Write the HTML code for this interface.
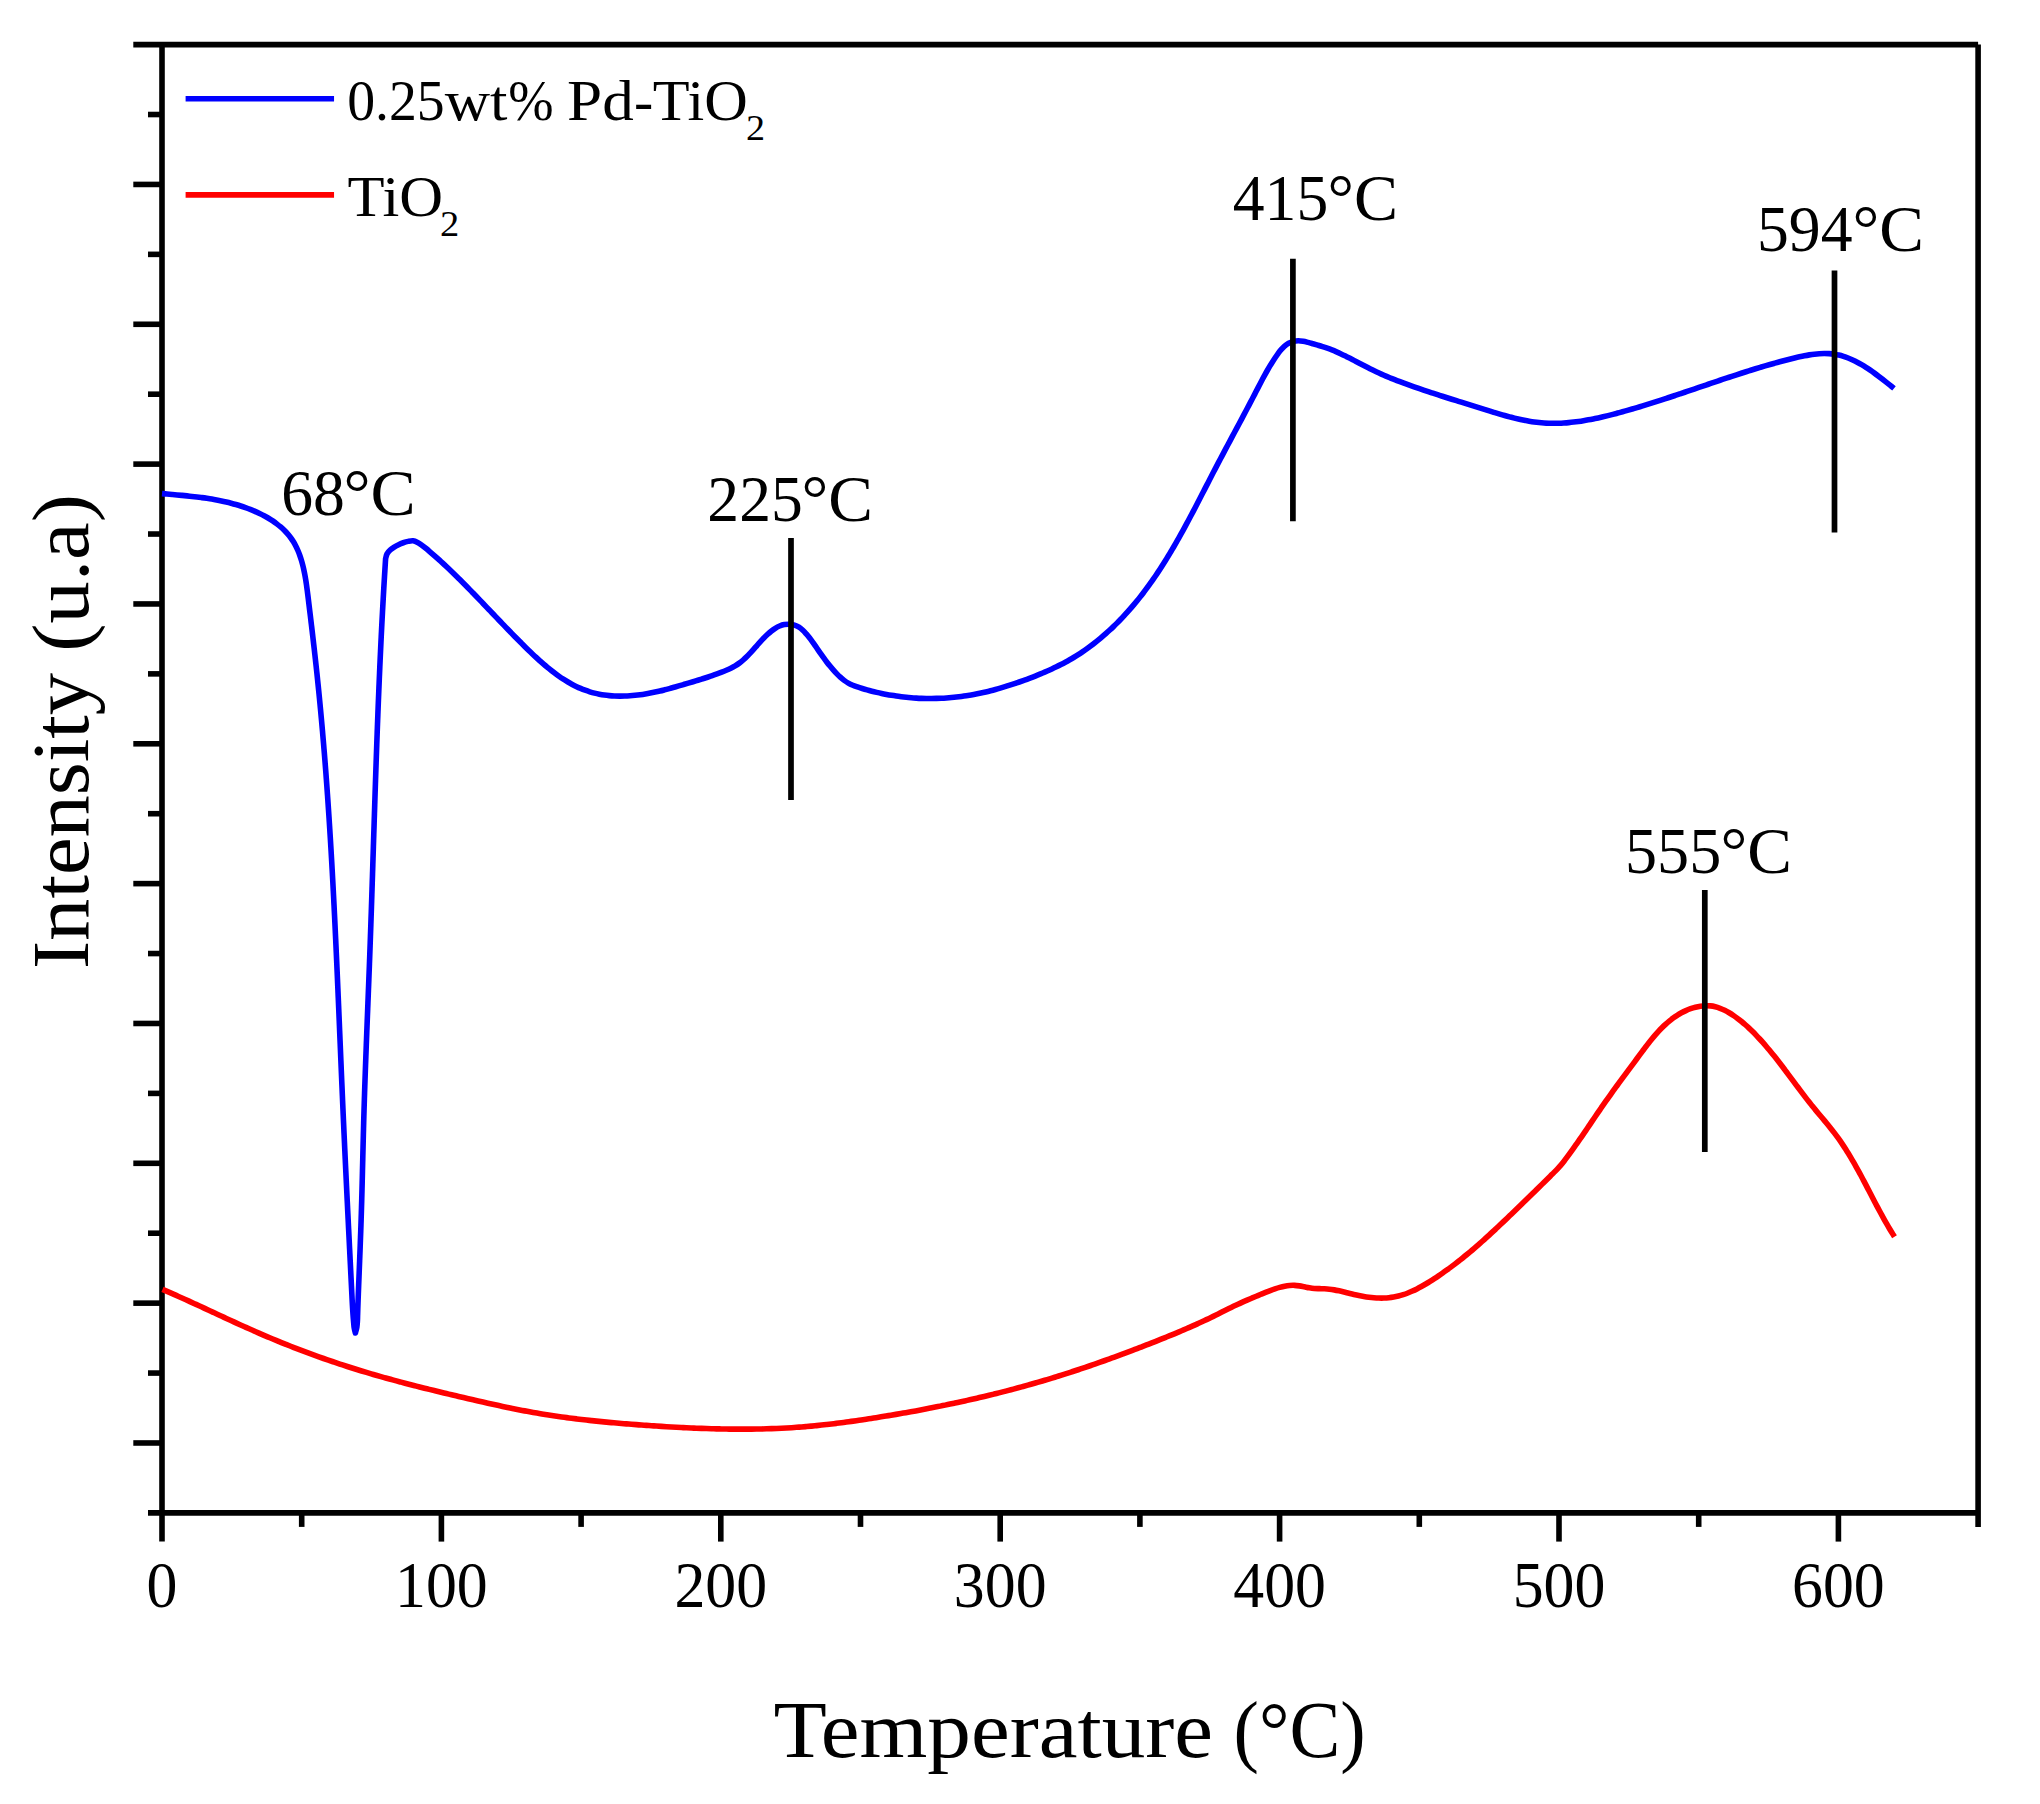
<!DOCTYPE html>
<html lang="en"><head><meta charset="utf-8"><title>TPR profiles</title>
<style>html,body{margin:0;padding:0;background:#fff}svg{display:block}text{font-family:"Liberation Serif",serif;fill:#000}</style></head><body>
<svg width="2040" height="1804" viewBox="0 0 2040 1804">
<rect width="2040" height="1804" fill="#fff"/>
<g stroke="#000" stroke-width="5.6" fill="none">
<line x1="133.30" y1="44.6" x2="1978.1" y2="44.6"/>
<line x1="162.0" y1="44.6" x2="162.0" y2="1541.60"/>
<line x1="148.00" y1="1512.9" x2="1978.1" y2="1512.9"/>
<line x1="1978.1" y1="44.6" x2="1978.1" y2="1526.90"/>
<line x1="148.00" y1="114.52" x2="162.0" y2="114.52"/>
<line x1="133.30" y1="184.44" x2="162.0" y2="184.44"/>
<line x1="148.00" y1="254.36" x2="162.0" y2="254.36"/>
<line x1="133.30" y1="324.28" x2="162.0" y2="324.28"/>
<line x1="148.00" y1="394.20" x2="162.0" y2="394.20"/>
<line x1="133.30" y1="464.11" x2="162.0" y2="464.11"/>
<line x1="148.00" y1="534.03" x2="162.0" y2="534.03"/>
<line x1="133.30" y1="603.95" x2="162.0" y2="603.95"/>
<line x1="148.00" y1="673.87" x2="162.0" y2="673.87"/>
<line x1="133.30" y1="743.79" x2="162.0" y2="743.79"/>
<line x1="148.00" y1="813.71" x2="162.0" y2="813.71"/>
<line x1="133.30" y1="883.63" x2="162.0" y2="883.63"/>
<line x1="148.00" y1="953.55" x2="162.0" y2="953.55"/>
<line x1="133.30" y1="1023.47" x2="162.0" y2="1023.47"/>
<line x1="148.00" y1="1093.39" x2="162.0" y2="1093.39"/>
<line x1="133.30" y1="1163.30" x2="162.0" y2="1163.30"/>
<line x1="148.00" y1="1233.22" x2="162.0" y2="1233.22"/>
<line x1="133.30" y1="1303.14" x2="162.0" y2="1303.14"/>
<line x1="148.00" y1="1373.06" x2="162.0" y2="1373.06"/>
<line x1="133.30" y1="1442.98" x2="162.0" y2="1442.98"/>
<line x1="301.70" y1="1512.9" x2="301.70" y2="1526.90"/>
<line x1="441.40" y1="1512.9" x2="441.40" y2="1541.60"/>
<line x1="581.10" y1="1512.9" x2="581.10" y2="1526.90"/>
<line x1="720.80" y1="1512.9" x2="720.80" y2="1541.60"/>
<line x1="860.50" y1="1512.9" x2="860.50" y2="1526.90"/>
<line x1="1000.20" y1="1512.9" x2="1000.20" y2="1541.60"/>
<line x1="1139.90" y1="1512.9" x2="1139.90" y2="1526.90"/>
<line x1="1279.60" y1="1512.9" x2="1279.60" y2="1541.60"/>
<line x1="1419.30" y1="1512.9" x2="1419.30" y2="1526.90"/>
<line x1="1559.00" y1="1512.9" x2="1559.00" y2="1541.60"/>
<line x1="1698.70" y1="1512.9" x2="1698.70" y2="1526.90"/>
<line x1="1838.40" y1="1512.9" x2="1838.40" y2="1541.60"/>
</g>
<path d="M162.50,1289.40C163.27,1289.73 165.57,1290.72 167.10,1291.38C168.63,1292.05 170.16,1292.72 171.69,1293.39C173.22,1294.06 174.74,1294.74 176.27,1295.42C177.79,1296.10 179.32,1296.78 180.84,1297.46C182.36,1298.15 183.88,1298.84 185.41,1299.53C186.93,1300.21 188.45,1300.91 189.97,1301.60C191.48,1302.29 193.00,1302.99 194.52,1303.69C196.04,1304.38 197.55,1305.08 199.07,1305.78C200.59,1306.48 202.10,1307.18 203.62,1307.88C205.13,1308.59 206.65,1309.29 208.16,1309.99C209.68,1310.70 211.19,1311.40 212.71,1312.10C214.22,1312.81 215.74,1313.51 217.25,1314.21C218.77,1314.92 220.28,1315.62 221.80,1316.32C223.32,1317.02 224.83,1317.72 226.35,1318.42C227.86,1319.13 229.38,1319.82 230.90,1320.52C232.42,1321.22 233.93,1321.92 235.45,1322.61C236.97,1323.31 238.49,1324.00 240.01,1324.69C241.53,1325.38 243.05,1326.07 244.58,1326.75C246.10,1327.44 247.62,1328.12 249.15,1328.80C250.67,1329.48 252.20,1330.16 253.73,1330.84C255.26,1331.51 256.78,1332.18 258.32,1332.85C259.85,1333.52 261.38,1334.18 262.91,1334.84C264.45,1335.50 265.98,1336.15 267.52,1336.81C269.06,1337.46 270.60,1338.10 272.14,1338.75C273.68,1339.39 275.22,1340.03 276.77,1340.67C278.31,1341.30 279.86,1341.93 281.41,1342.56C282.95,1343.19 284.50,1343.81 286.05,1344.43C287.61,1345.05 289.16,1345.66 290.71,1346.27C292.27,1346.89 293.82,1347.49 295.38,1348.10C296.94,1348.70 298.50,1349.30 300.06,1349.89C301.62,1350.49 303.18,1351.08 304.74,1351.66C306.31,1352.25 307.87,1352.83 309.44,1353.41C311.01,1353.99 312.57,1354.56 314.14,1355.13C315.71,1355.70 317.28,1356.27 318.86,1356.83C320.43,1357.39 322.00,1357.95 323.58,1358.50C325.16,1359.06 326.73,1359.61 328.31,1360.15C329.89,1360.70 331.47,1361.24 333.05,1361.77C334.63,1362.31 336.21,1362.84 337.80,1363.37C339.38,1363.90 340.97,1364.43 342.55,1364.95C344.14,1365.47 345.73,1365.98 347.32,1366.49C348.91,1367.01 350.50,1367.51 352.09,1368.02C353.68,1368.52 355.27,1369.02 356.87,1369.51C358.46,1370.01 360.06,1370.50 361.66,1370.99C363.25,1371.47 364.85,1371.95 366.45,1372.43C368.05,1372.91 369.65,1373.38 371.25,1373.85C372.85,1374.32 374.46,1374.79 376.06,1375.25C377.66,1375.72 379.27,1376.17 380.88,1376.63C382.48,1377.08 384.09,1377.54 385.70,1377.98C387.31,1378.43 388.91,1378.88 390.52,1379.32C392.13,1379.76 393.75,1380.20 395.36,1380.63C396.97,1381.07 398.58,1381.50 400.20,1381.93C401.81,1382.36 403.42,1382.78 405.04,1383.21C406.65,1383.63 408.27,1384.05 409.89,1384.47C411.50,1384.89 413.12,1385.30 414.74,1385.72C416.36,1386.13 417.98,1386.54 419.60,1386.95C421.22,1387.36 422.84,1387.77 424.46,1388.17C426.08,1388.57 427.70,1388.98 429.32,1389.38C430.94,1389.78 432.56,1390.18 434.19,1390.57C435.81,1390.97 437.43,1391.36 439.06,1391.76C440.68,1392.15 442.30,1392.54 443.93,1392.93C445.55,1393.32 447.18,1393.71 448.80,1394.10C450.43,1394.49 452.05,1394.88 453.68,1395.26C455.31,1395.65 456.93,1396.03 458.56,1396.42C460.18,1396.80 461.81,1397.18 463.44,1397.56C465.06,1397.95 466.69,1398.33 468.32,1398.71C469.94,1399.09 471.57,1399.47 473.20,1399.85C474.83,1400.22 476.46,1400.60 478.08,1400.97C479.71,1401.35 481.34,1401.72 482.97,1402.09C484.60,1402.46 486.23,1402.83 487.86,1403.20C489.49,1403.56 491.12,1403.93 492.75,1404.29C494.38,1404.65 496.01,1405.01 497.64,1405.36C499.27,1405.72 500.91,1406.07 502.54,1406.42C504.17,1406.76 505.81,1407.11 507.44,1407.45C509.08,1407.79 510.71,1408.13 512.35,1408.46C513.98,1408.79 515.62,1409.12 517.26,1409.45C518.89,1409.77 520.53,1410.09 522.17,1410.41C523.81,1410.72 525.45,1411.03 527.09,1411.34C528.73,1411.64 530.37,1411.95 532.02,1412.24C533.66,1412.54 535.30,1412.82 536.95,1413.11C538.59,1413.39 540.24,1413.67 541.88,1413.94C543.53,1414.22 545.18,1414.48 546.82,1414.74C548.47,1415.00 550.12,1415.26 551.77,1415.51C553.42,1415.76 555.07,1416.01 556.73,1416.25C558.38,1416.49 560.03,1416.72 561.68,1416.95C563.34,1417.18 564.99,1417.41 566.65,1417.63C568.30,1417.85 569.96,1418.07 571.61,1418.28C573.27,1418.49 574.93,1418.70 576.58,1418.90C578.24,1419.10 579.90,1419.30 581.56,1419.49C583.22,1419.69 584.88,1419.88 586.54,1420.07C588.20,1420.25 589.86,1420.43 591.52,1420.61C593.18,1420.79 594.84,1420.97 596.50,1421.14C598.17,1421.31 599.83,1421.48 601.49,1421.64C603.15,1421.80 604.82,1421.97 606.48,1422.12C608.14,1422.28 609.81,1422.44 611.47,1422.59C613.13,1422.74 614.80,1422.89 616.46,1423.03C618.13,1423.18 619.79,1423.32 621.46,1423.46C623.12,1423.60 624.79,1423.74 626.45,1423.88C628.12,1424.01 629.78,1424.14 631.45,1424.28C633.11,1424.41 634.78,1424.53 636.45,1424.66C638.11,1424.79 639.78,1424.91 641.44,1425.03C643.11,1425.16 644.77,1425.28 646.44,1425.39C648.11,1425.51 649.77,1425.63 651.44,1425.74C653.10,1425.86 654.77,1425.97 656.43,1426.08C658.10,1426.19 659.77,1426.29 661.43,1426.40C663.10,1426.50 664.77,1426.60 666.43,1426.70C668.10,1426.80 669.77,1426.90 671.43,1426.99C673.10,1427.09 674.77,1427.18 676.43,1427.27C678.10,1427.36 679.77,1427.45 681.43,1427.53C683.10,1427.61 684.77,1427.70 686.44,1427.77C688.10,1427.85 689.77,1427.93 691.44,1428.00C693.11,1428.07 694.78,1428.14 696.45,1428.21C698.11,1428.28 699.78,1428.34 701.45,1428.40C703.12,1428.46 704.79,1428.52 706.46,1428.57C708.13,1428.63 709.80,1428.68 711.47,1428.73C713.14,1428.77 714.81,1428.82 716.48,1428.86C718.15,1428.90 719.82,1428.93 721.49,1428.97C723.16,1429.00 724.83,1429.03 726.50,1429.06C728.17,1429.08 729.84,1429.10 731.51,1429.12C733.18,1429.14 734.85,1429.15 736.52,1429.16C738.19,1429.17 739.86,1429.17 741.53,1429.17C743.20,1429.17 744.87,1429.17 746.54,1429.16C748.21,1429.15 749.88,1429.14 751.55,1429.12C753.22,1429.10 754.89,1429.08 756.56,1429.05C758.23,1429.02 759.90,1428.99 761.57,1428.95C763.24,1428.91 764.91,1428.87 766.58,1428.82C768.24,1428.77 769.91,1428.72 771.58,1428.66C773.25,1428.60 774.92,1428.53 776.59,1428.46C778.25,1428.39 779.92,1428.31 781.59,1428.23C783.25,1428.15 784.92,1428.06 786.59,1427.97C788.25,1427.87 789.92,1427.77 791.59,1427.67C793.25,1427.56 794.92,1427.45 796.58,1427.33C798.24,1427.21 799.91,1427.09 801.57,1426.96C803.24,1426.82 804.90,1426.69 806.56,1426.54C808.23,1426.40 809.89,1426.25 811.55,1426.09C813.21,1425.94 814.87,1425.77 816.53,1425.61C818.19,1425.44 819.85,1425.27 821.51,1425.09C823.17,1424.91 824.83,1424.73 826.49,1424.54C828.15,1424.35 829.81,1424.16 831.47,1423.96C833.13,1423.76 834.78,1423.56 836.44,1423.35C838.10,1423.14 839.76,1422.93 841.41,1422.71C843.07,1422.50 844.72,1422.28 846.38,1422.05C848.04,1421.83 849.69,1421.60 851.35,1421.37C853.00,1421.14 854.65,1420.90 856.31,1420.66C857.96,1420.42 859.62,1420.18 861.27,1419.93C862.92,1419.69 864.57,1419.44 866.23,1419.19C867.88,1418.94 869.53,1418.68 871.18,1418.43C872.83,1418.17 874.48,1417.91 876.13,1417.65C877.78,1417.38 879.43,1417.12 881.08,1416.85C882.73,1416.59 884.38,1416.32 886.03,1416.05C887.68,1415.77 889.33,1415.50 890.98,1415.22C892.62,1414.95 894.27,1414.67 895.92,1414.38C897.56,1414.10 899.21,1413.82 900.86,1413.53C902.50,1413.24 904.15,1412.95 905.79,1412.66C907.44,1412.37 909.08,1412.07 910.73,1411.78C912.37,1411.48 914.01,1411.18 915.66,1410.88C917.30,1410.57 918.94,1410.27 920.58,1409.96C922.22,1409.65 923.86,1409.34 925.50,1409.02C927.14,1408.71 928.78,1408.39 930.42,1408.07C932.06,1407.75 933.70,1407.43 935.34,1407.11C936.98,1406.78 938.61,1406.45 940.25,1406.12C941.89,1405.79 943.52,1405.45 945.16,1405.12C946.79,1404.78 948.43,1404.44 950.06,1404.10C951.70,1403.75 953.33,1403.41 954.96,1403.06C956.59,1402.71 958.23,1402.36 959.86,1402.00C961.49,1401.65 963.12,1401.29 964.75,1400.93C966.38,1400.56 968.01,1400.20 969.64,1399.83C971.26,1399.46 972.89,1399.09 974.52,1398.72C976.14,1398.34 977.77,1397.97 979.39,1397.59C981.02,1397.20 982.64,1396.82 984.27,1396.43C985.89,1396.05 987.51,1395.65 989.14,1395.26C990.76,1394.87 992.38,1394.47 994.00,1394.07C995.62,1393.67 997.24,1393.26 998.86,1392.86C1000.47,1392.45 1002.09,1392.04 1003.71,1391.62C1005.33,1391.21 1006.94,1390.79 1008.56,1390.37C1010.17,1389.95 1011.79,1389.52 1013.40,1389.10C1015.01,1388.67 1016.62,1388.24 1018.23,1387.80C1019.85,1387.36 1021.46,1386.93 1023.07,1386.48C1024.67,1386.04 1026.28,1385.59 1027.89,1385.14C1029.50,1384.69 1031.10,1384.24 1032.71,1383.78C1034.32,1383.33 1035.92,1382.87 1037.52,1382.40C1039.13,1381.94 1040.73,1381.47 1042.33,1381.00C1043.93,1380.52 1045.53,1380.05 1047.13,1379.57C1048.73,1379.09 1050.33,1378.60 1051.93,1378.12C1053.52,1377.63 1055.12,1377.14 1056.71,1376.64C1058.31,1376.15 1059.90,1375.65 1061.50,1375.15C1063.09,1374.64 1064.68,1374.14 1066.27,1373.63C1067.86,1373.12 1069.45,1372.60 1071.04,1372.09C1072.63,1371.57 1074.22,1371.05 1075.81,1370.53C1077.39,1370.00 1078.98,1369.48 1080.56,1368.95C1082.15,1368.42 1083.73,1367.88 1085.31,1367.35C1086.90,1366.81 1088.48,1366.27 1090.06,1365.73C1091.64,1365.18 1093.22,1364.64 1094.80,1364.09C1096.37,1363.54 1097.95,1362.99 1099.53,1362.43C1101.11,1361.88 1102.68,1361.32 1104.25,1360.76C1105.83,1360.19 1107.40,1359.63 1108.97,1359.06C1110.55,1358.50 1112.12,1357.93 1113.69,1357.35C1115.26,1356.78 1116.83,1356.21 1118.40,1355.63C1119.96,1355.05 1121.53,1354.47 1123.10,1353.89C1124.66,1353.31 1126.23,1352.72 1127.79,1352.13C1129.36,1351.55 1130.92,1350.95 1132.48,1350.36C1134.04,1349.77 1135.60,1349.17 1137.16,1348.58C1138.72,1347.98 1140.28,1347.38 1141.84,1346.78C1143.40,1346.18 1144.96,1345.57 1146.51,1344.97C1148.07,1344.36 1149.62,1343.75 1151.18,1343.14C1152.73,1342.53 1154.28,1341.92 1155.84,1341.30C1157.39,1340.69 1158.94,1340.07 1160.49,1339.45C1162.04,1338.83 1163.58,1338.21 1165.13,1337.58C1166.68,1336.96 1168.22,1336.33 1169.77,1335.69C1171.31,1335.06 1172.85,1334.43 1174.39,1333.79C1175.93,1333.15 1177.47,1332.50 1179.01,1331.85C1180.54,1331.21 1182.08,1330.55 1183.61,1329.90C1185.15,1329.24 1186.68,1328.58 1188.21,1327.91C1189.74,1327.25 1191.26,1326.58 1192.79,1325.90C1194.31,1325.22 1195.84,1324.54 1197.36,1323.85C1198.88,1323.17 1200.39,1322.48 1201.91,1321.78C1203.42,1321.08 1204.94,1320.37 1206.45,1319.66C1207.96,1318.95 1209.47,1318.24 1210.97,1317.51C1212.48,1316.79 1213.98,1316.06 1215.48,1315.32C1216.98,1314.59 1218.48,1313.84 1219.97,1313.09C1221.47,1312.35 1222.96,1311.59 1224.45,1310.83C1225.94,1310.08 1227.43,1309.32 1228.93,1308.57C1230.42,1307.82 1231.92,1307.08 1233.42,1306.35C1234.92,1305.62 1236.43,1304.90 1237.94,1304.19C1239.45,1303.49 1240.97,1302.81 1242.50,1302.13C1244.02,1301.45 1245.56,1300.79 1247.09,1300.13C1248.62,1299.48 1250.16,1298.83 1251.70,1298.18C1253.23,1297.53 1254.77,1296.88 1256.31,1296.23C1257.85,1295.58 1259.39,1294.92 1260.93,1294.28C1262.48,1293.63 1264.02,1292.98 1265.57,1292.36C1267.12,1291.74 1268.67,1291.12 1270.24,1290.54C1271.81,1289.95 1273.38,1289.39 1274.97,1288.86C1276.56,1288.34 1278.15,1287.84 1279.77,1287.40C1281.38,1286.96 1283.02,1286.54 1284.65,1286.22C1286.29,1285.90 1287.95,1285.62 1289.60,1285.47C1291.25,1285.33 1292.91,1285.28 1294.57,1285.35C1296.22,1285.41 1297.87,1285.64 1299.52,1285.88C1301.17,1286.12 1302.80,1286.49 1304.45,1286.80C1306.09,1287.12 1307.72,1287.50 1309.37,1287.76C1311.02,1288.03 1312.67,1288.27 1314.34,1288.42C1316.00,1288.57 1317.68,1288.60 1319.35,1288.67C1321.03,1288.74 1322.71,1288.73 1324.38,1288.82C1326.05,1288.90 1327.71,1288.99 1329.36,1289.17C1331.01,1289.34 1332.65,1289.59 1334.28,1289.87C1335.91,1290.15 1337.54,1290.50 1339.16,1290.85C1340.79,1291.20 1342.41,1291.60 1344.03,1292.00C1345.66,1292.39 1347.28,1292.82 1348.92,1293.22C1350.55,1293.62 1352.19,1294.03 1353.84,1294.41C1355.49,1294.79 1357.14,1295.16 1358.81,1295.50C1360.47,1295.84 1362.14,1296.16 1363.81,1296.44C1365.48,1296.73 1367.16,1296.99 1368.84,1297.20C1370.51,1297.42 1372.19,1297.61 1373.86,1297.75C1375.54,1297.89 1377.21,1298.00 1378.88,1298.05C1380.54,1298.10 1382.21,1298.11 1383.86,1298.06C1385.51,1298.01 1387.16,1297.92 1388.79,1297.75C1390.43,1297.59 1392.05,1297.37 1393.67,1297.09C1395.28,1296.81 1396.88,1296.46 1398.46,1296.06C1400.05,1295.66 1401.62,1295.19 1403.19,1294.69C1404.75,1294.18 1406.30,1293.61 1407.84,1293.01C1409.38,1292.41 1410.90,1291.76 1412.42,1291.07C1413.93,1290.39 1415.44,1289.66 1416.93,1288.90C1418.43,1288.15 1419.91,1287.35 1421.38,1286.54C1422.85,1285.72 1424.31,1284.88 1425.76,1284.02C1427.21,1283.16 1428.66,1282.27 1430.09,1281.37C1431.52,1280.48 1432.94,1279.57 1434.35,1278.65C1435.76,1277.73 1437.16,1276.80 1438.55,1275.86C1439.95,1274.92 1441.33,1273.97 1442.70,1273.01C1444.08,1272.05 1445.44,1271.08 1446.80,1270.10C1448.16,1269.12 1449.51,1268.13 1450.85,1267.13C1452.19,1266.14 1453.53,1265.13 1454.85,1264.12C1456.18,1263.10 1457.50,1262.08 1458.81,1261.05C1460.12,1260.02 1461.43,1258.98 1462.72,1257.94C1464.02,1256.89 1465.32,1255.84 1466.60,1254.78C1467.89,1253.72 1469.17,1252.65 1470.44,1251.58C1471.72,1250.51 1472.98,1249.43 1474.25,1248.34C1475.51,1247.26 1476.77,1246.17 1478.02,1245.07C1479.28,1243.97 1480.52,1242.87 1481.77,1241.76C1483.01,1240.66 1484.25,1239.54 1485.49,1238.43C1486.73,1237.31 1487.96,1236.19 1489.19,1235.06C1490.42,1233.94 1491.64,1232.81 1492.86,1231.67C1494.09,1230.54 1495.30,1229.40 1496.52,1228.26C1497.74,1227.12 1498.95,1225.98 1500.16,1224.83C1501.38,1223.68 1502.59,1222.53 1503.79,1221.38C1505.00,1220.23 1506.21,1219.08 1507.41,1217.92C1508.62,1216.76 1509.82,1215.61 1511.02,1214.45C1512.23,1213.29 1513.43,1212.13 1514.63,1210.97C1515.83,1209.80 1517.03,1208.64 1518.23,1207.48C1519.44,1206.32 1520.64,1205.15 1521.84,1203.99C1523.04,1202.82 1524.24,1201.66 1525.43,1200.49C1526.63,1199.32 1527.83,1198.16 1529.03,1196.99C1530.22,1195.82 1531.42,1194.65 1532.62,1193.48C1533.81,1192.32 1535.01,1191.15 1536.20,1189.98C1537.39,1188.81 1538.58,1187.64 1539.78,1186.46C1540.97,1185.29 1542.16,1184.12 1543.35,1182.95C1544.54,1181.78 1545.72,1180.60 1546.91,1179.43C1548.10,1178.26 1549.28,1177.08 1550.47,1175.91C1551.65,1174.73 1552.85,1173.56 1554.02,1172.37C1555.20,1171.19 1556.38,1170.01 1557.52,1168.79C1558.67,1167.57 1559.79,1166.34 1560.88,1165.08C1561.96,1163.81 1563.01,1162.51 1564.04,1161.20C1565.07,1159.88 1566.07,1158.54 1567.06,1157.20C1568.05,1155.85 1569.02,1154.49 1569.99,1153.13C1570.97,1151.78 1571.93,1150.42 1572.90,1149.06C1573.87,1147.70 1574.84,1146.35 1575.80,1144.99C1576.77,1143.63 1577.73,1142.27 1578.69,1140.90C1579.64,1139.54 1580.60,1138.16 1581.54,1136.79C1582.49,1135.41 1583.44,1134.03 1584.38,1132.65C1585.32,1131.27 1586.26,1129.88 1587.20,1128.50C1588.14,1127.11 1589.08,1125.73 1590.02,1124.34C1590.95,1122.95 1591.89,1121.56 1592.83,1120.18C1593.76,1118.79 1594.70,1117.40 1595.64,1116.02C1596.57,1114.64 1597.51,1113.25 1598.45,1111.87C1599.39,1110.50 1600.34,1109.12 1601.28,1107.75C1602.23,1106.38 1603.18,1105.01 1604.13,1103.65C1605.08,1102.28 1606.03,1100.93 1606.99,1099.57C1607.95,1098.22 1608.91,1096.87 1609.88,1095.52C1610.84,1094.17 1611.81,1092.82 1612.78,1091.48C1613.75,1090.14 1614.72,1088.80 1615.69,1087.46C1616.67,1086.12 1617.65,1084.78 1618.63,1083.44C1619.61,1082.10 1620.59,1080.77 1621.57,1079.43C1622.56,1078.09 1623.54,1076.76 1624.53,1075.42C1625.52,1074.08 1626.51,1072.74 1627.51,1071.40C1628.50,1070.06 1629.49,1068.72 1630.49,1067.37C1631.49,1066.03 1632.48,1064.68 1633.48,1063.33C1634.48,1061.98 1635.49,1060.62 1636.49,1059.27C1637.49,1057.91 1638.49,1056.55 1639.50,1055.18C1640.51,1053.82 1641.51,1052.45 1642.53,1051.09C1643.55,1049.73 1644.56,1048.36 1645.59,1047.01C1646.62,1045.66 1647.66,1044.31 1648.71,1042.98C1649.75,1041.64 1650.81,1040.32 1651.88,1039.01C1652.95,1037.70 1654.04,1036.41 1655.14,1035.14C1656.24,1033.87 1657.35,1032.61 1658.49,1031.38C1659.62,1030.16 1660.78,1028.95 1661.95,1027.77C1663.13,1026.60 1664.32,1025.45 1665.54,1024.34C1666.76,1023.22 1668.00,1022.14 1669.27,1021.09C1670.54,1020.05 1671.83,1019.04 1673.16,1018.07C1674.48,1017.11 1675.83,1016.18 1677.22,1015.30C1678.60,1014.42 1680.02,1013.59 1681.47,1012.80C1682.92,1012.02 1684.40,1011.28 1685.92,1010.60C1687.44,1009.92 1689.00,1009.29 1690.59,1008.73C1692.17,1008.17 1693.80,1007.66 1695.43,1007.25C1697.06,1006.83 1698.73,1006.48 1700.39,1006.23C1702.05,1005.98 1703.73,1005.81 1705.39,1005.75C1707.06,1005.70 1708.73,1005.74 1710.37,1005.91C1712.02,1006.07 1713.66,1006.36 1715.27,1006.76C1716.88,1007.15 1718.48,1007.68 1720.04,1008.27C1721.61,1008.86 1723.15,1009.57 1724.67,1010.32C1726.19,1011.07 1727.68,1011.91 1729.14,1012.78C1730.60,1013.64 1732.04,1014.57 1733.44,1015.52C1734.84,1016.46 1736.21,1017.44 1737.56,1018.44C1738.90,1019.44 1740.22,1020.47 1741.51,1021.52C1742.80,1022.58 1744.07,1023.65 1745.32,1024.75C1746.57,1025.84 1747.79,1026.96 1749.00,1028.10C1750.21,1029.23 1751.40,1030.39 1752.57,1031.56C1753.75,1032.73 1754.91,1033.92 1756.06,1035.11C1757.21,1036.31 1758.35,1037.52 1759.47,1038.75C1760.60,1039.97 1761.72,1041.21 1762.82,1042.45C1763.93,1043.70 1765.02,1044.96 1766.10,1046.22C1767.19,1047.49 1768.27,1048.77 1769.33,1050.05C1770.40,1051.34 1771.46,1052.63 1772.51,1053.93C1773.56,1055.23 1774.61,1056.54 1775.65,1057.85C1776.69,1059.17 1777.72,1060.49 1778.74,1061.81C1779.77,1063.14 1780.79,1064.47 1781.81,1065.80C1782.83,1067.13 1783.84,1068.47 1784.85,1069.81C1785.85,1071.14 1786.86,1072.49 1787.86,1073.83C1788.87,1075.17 1789.87,1076.51 1790.86,1077.85C1791.86,1079.20 1792.86,1080.54 1793.86,1081.88C1794.85,1083.22 1795.85,1084.56 1796.85,1085.90C1797.85,1087.24 1798.84,1088.57 1799.85,1089.91C1800.85,1091.24 1801.85,1092.57 1802.86,1093.90C1803.87,1095.23 1804.88,1096.55 1805.89,1097.87C1806.91,1099.19 1807.93,1100.50 1808.96,1101.81C1809.99,1103.12 1811.03,1104.43 1812.08,1105.73C1813.12,1107.03 1814.18,1108.32 1815.24,1109.61C1816.30,1110.90 1817.37,1112.18 1818.44,1113.46C1819.51,1114.75 1820.59,1116.02 1821.67,1117.30C1822.74,1118.58 1823.82,1119.86 1824.89,1121.15C1825.96,1122.43 1827.03,1123.72 1828.09,1125.01C1829.15,1126.30 1830.20,1127.60 1831.24,1128.91C1832.28,1130.22 1833.31,1131.53 1834.32,1132.86C1835.33,1134.19 1836.33,1135.53 1837.31,1136.88C1838.29,1138.23 1839.25,1139.60 1840.20,1140.97C1841.16,1142.34 1842.09,1143.72 1843.01,1145.11C1843.94,1146.50 1844.85,1147.90 1845.74,1149.31C1846.64,1150.72 1847.52,1152.13 1848.40,1153.55C1849.27,1154.98 1850.13,1156.41 1850.99,1157.84C1851.84,1159.27 1852.68,1160.72 1853.51,1162.16C1854.35,1163.61 1855.17,1165.06 1855.98,1166.51C1856.80,1167.97 1857.61,1169.43 1858.41,1170.89C1859.21,1172.36 1860.01,1173.82 1860.80,1175.29C1861.59,1176.77 1862.38,1178.24 1863.16,1179.71C1863.94,1181.19 1864.72,1182.67 1865.49,1184.15C1866.27,1185.63 1867.04,1187.11 1867.81,1188.59C1868.58,1190.07 1869.35,1191.56 1870.12,1193.04C1870.90,1194.52 1871.66,1196.00 1872.44,1197.49C1873.21,1198.97 1873.98,1200.45 1874.76,1201.93C1875.53,1203.41 1876.31,1204.89 1877.09,1206.36C1877.87,1207.84 1878.66,1209.32 1879.45,1210.79C1880.24,1212.26 1881.03,1213.73 1881.84,1215.19C1882.64,1216.66 1883.45,1218.12 1884.26,1219.57C1885.08,1221.03 1885.90,1222.48 1886.73,1223.93C1887.57,1225.38 1888.41,1226.82 1889.26,1228.26C1890.11,1229.69 1890.97,1231.12 1891.85,1232.55C1892.72,1233.97 1894.06,1236.09 1894.50,1236.80" fill="none" stroke="#ff0000" stroke-width="5.6" stroke-linejoin="round" stroke-linecap="butt"/>
<path d="M162.00,493.60C162.84,493.67 165.36,493.90 167.03,494.05C168.71,494.19 170.38,494.34 172.05,494.49C173.72,494.63 175.39,494.78 177.05,494.93C178.72,495.09 180.38,495.24 182.04,495.40C183.70,495.56 185.36,495.72 187.02,495.89C188.67,496.06 190.33,496.23 191.98,496.41C193.63,496.60 195.28,496.79 196.92,496.99C198.57,497.19 200.21,497.40 201.85,497.62C203.49,497.84 205.13,498.07 206.77,498.32C208.40,498.57 210.04,498.82 211.67,499.10C213.30,499.37 214.93,499.66 216.55,499.96C218.18,500.27 219.80,500.59 221.42,500.93C223.04,501.27 224.65,501.63 226.27,502.00C227.88,502.38 229.49,502.78 231.10,503.20C232.71,503.62 234.32,504.06 235.92,504.52C237.52,504.99 239.12,505.47 240.72,505.99C242.32,506.50 243.91,507.04 245.50,507.60C247.09,508.16 248.68,508.75 250.26,509.37C251.83,509.99 253.41,510.64 254.96,511.32C256.52,511.99 258.06,512.70 259.59,513.44C261.11,514.17 262.63,514.94 264.11,515.74C265.60,516.54 267.07,517.37 268.51,518.24C269.95,519.11 271.36,520.00 272.75,520.94C274.13,521.87 275.49,522.84 276.81,523.85C278.12,524.86 279.41,525.90 280.66,526.98C281.90,528.06 283.11,529.18 284.27,530.33C285.44,531.49 286.56,532.69 287.63,533.92C288.70,535.16 289.73,536.44 290.70,537.76C291.67,539.08 292.60,540.44 293.46,541.84C294.33,543.25 295.13,544.70 295.89,546.18C296.65,547.66 297.34,549.19 298.00,550.74C298.66,552.28 299.26,553.86 299.83,555.45C300.39,557.04 300.91,558.66 301.40,560.28C301.88,561.89 302.33,563.52 302.74,565.15C303.16,566.78 303.54,568.41 303.89,570.05C304.25,571.68 304.58,573.32 304.88,574.96C305.19,576.59 305.47,578.24 305.74,579.88C306.00,581.52 306.25,583.17 306.49,584.81C306.72,586.46 306.94,588.11 307.16,589.76C307.37,591.41 307.58,593.06 307.78,594.71C307.99,596.36 308.19,598.01 308.39,599.66C308.59,601.31 308.79,602.96 308.99,604.61C309.19,606.27 309.39,607.92 309.59,609.57C309.79,611.22 309.99,612.88 310.19,614.53C310.39,616.18 310.59,617.84 310.79,619.49C310.98,621.15 311.18,622.80 311.38,624.46C311.57,626.11 311.77,627.77 311.96,629.42C312.16,631.08 312.35,632.73 312.55,634.39C312.74,636.04 312.93,637.70 313.13,639.35C313.32,641.01 313.51,642.67 313.70,644.32C313.89,645.98 314.08,647.64 314.27,649.29C314.45,650.95 314.64,652.61 314.83,654.27C315.01,655.92 315.20,657.58 315.38,659.24C315.57,660.90 315.75,662.55 315.93,664.21C316.11,665.87 316.29,667.53 316.47,669.19C316.65,670.85 316.82,672.50 317.00,674.16C317.17,675.82 317.35,677.48 317.52,679.14C317.69,680.80 317.86,682.46 318.03,684.11C318.20,685.77 318.37,687.43 318.54,689.09C318.71,690.75 318.87,692.41 319.03,694.07C319.20,695.73 319.36,697.39 319.52,699.05C319.68,700.71 319.85,702.37 320.00,704.03C320.16,705.69 320.32,707.35 320.48,709.01C320.63,710.67 320.79,712.33 320.94,713.99C321.09,715.65 321.25,717.31 321.40,718.97C321.55,720.63 321.70,722.29 321.85,723.95C322.00,725.61 322.14,727.27 322.29,728.93C322.43,730.59 322.58,732.25 322.72,733.91C322.87,735.57 323.01,737.23 323.15,738.89C323.29,740.55 323.43,742.21 323.57,743.88C323.71,745.54 323.85,747.20 323.98,748.86C324.12,750.52 324.25,752.18 324.39,753.84C324.52,755.50 324.66,757.17 324.79,758.83C324.92,760.49 325.05,762.15 325.18,763.81C325.31,765.47 325.44,767.14 325.57,768.80C325.69,770.46 325.82,772.12 325.95,773.78C326.07,775.45 326.20,777.11 326.32,778.77C326.44,780.43 326.56,782.09 326.69,783.76C326.81,785.42 326.93,787.08 327.05,788.74C327.17,790.41 327.28,792.07 327.40,793.73C327.52,795.39 327.64,797.06 327.75,798.72C327.87,800.38 327.98,802.04 328.09,803.71C328.21,805.37 328.32,807.03 328.43,808.70C328.54,810.36 328.65,812.02 328.76,813.69C328.87,815.35 328.98,817.01 329.09,818.68C329.20,820.34 329.31,822.00 329.41,823.66C329.52,825.33 329.63,826.99 329.73,828.66C329.83,830.32 329.94,831.98 330.04,833.65C330.14,835.31 330.25,836.97 330.35,838.64C330.45,840.30 330.55,841.96 330.65,843.63C330.75,845.29 330.85,846.96 330.95,848.62C331.05,850.28 331.14,851.95 331.24,853.61C331.34,855.28 331.43,856.94 331.53,858.60C331.62,860.27 331.72,861.93 331.81,863.60C331.91,865.26 332.00,866.92 332.09,868.59C332.18,870.25 332.28,871.92 332.37,873.58C332.46,875.25 332.55,876.91 332.64,878.58C332.73,880.24 332.82,881.90 332.91,883.57C333.00,885.23 333.08,886.90 333.17,888.56C333.26,890.23 333.35,891.89 333.43,893.56C333.52,895.22 333.60,896.89 333.69,898.55C333.77,900.22 333.86,901.88 333.94,903.55C334.03,905.21 334.11,906.88 334.19,908.54C334.28,910.21 334.36,911.87 334.44,913.54C334.52,915.20 334.60,916.87 334.69,918.53C334.77,920.20 334.85,921.86 334.93,923.53C335.01,925.19 335.09,926.86 335.17,928.52C335.25,930.19 335.32,931.85 335.40,933.52C335.48,935.18 335.56,936.85 335.64,938.51C335.71,940.18 335.79,941.84 335.87,943.51C335.94,945.17 336.02,946.84 336.10,948.51C336.17,950.17 336.25,951.84 336.32,953.50C336.40,955.17 336.47,956.83 336.55,958.50C336.62,960.16 336.70,961.83 336.77,963.49C336.84,965.16 336.92,966.83 336.99,968.49C337.06,970.16 337.14,971.82 337.21,973.49C337.28,975.15 337.36,976.82 337.43,978.48C337.50,980.15 337.57,981.82 337.64,983.48C337.72,985.15 337.79,986.81 337.86,988.48C337.93,990.14 338.00,991.81 338.07,993.48C338.14,995.14 338.21,996.81 338.29,998.47C338.36,1000.14 338.43,1001.80 338.50,1003.47C338.57,1005.14 338.64,1006.80 338.71,1008.47C338.78,1010.13 338.85,1011.80 338.92,1013.47C338.99,1015.13 339.06,1016.80 339.13,1018.46C339.20,1020.13 339.27,1021.79 339.34,1023.46C339.41,1025.13 339.47,1026.79 339.54,1028.46C339.61,1030.12 339.68,1031.79 339.75,1033.45C339.82,1035.12 339.89,1036.79 339.96,1038.45C340.03,1040.12 340.10,1041.78 340.17,1043.45C340.24,1045.12 340.31,1046.78 340.38,1048.45C340.45,1050.11 340.52,1051.78 340.58,1053.44C340.65,1055.11 340.72,1056.78 340.79,1058.44C340.86,1060.11 340.93,1061.77 341.00,1063.44C341.07,1065.10 341.14,1066.77 341.21,1068.44C341.28,1070.10 341.35,1071.77 341.42,1073.43C341.49,1075.10 341.56,1076.76 341.63,1078.43C341.70,1080.10 341.77,1081.76 341.84,1083.43C341.92,1085.09 341.99,1086.76 342.06,1088.42C342.13,1090.09 342.20,1091.76 342.27,1093.42C342.34,1095.09 342.42,1096.75 342.49,1098.42C342.56,1100.08 342.63,1101.75 342.70,1103.41C342.78,1105.08 342.85,1106.74 342.92,1108.41C343.00,1110.08 343.07,1111.74 343.14,1113.41C343.22,1115.07 343.29,1116.74 343.36,1118.40C343.44,1120.07 343.51,1121.73 343.59,1123.40C343.66,1125.06 343.74,1126.73 343.81,1128.39C343.89,1130.06 343.96,1131.73 344.04,1133.39C344.12,1135.06 344.19,1136.72 344.27,1138.39C344.34,1140.05 344.42,1141.72 344.50,1143.38C344.57,1145.05 344.65,1146.71 344.73,1148.38C344.81,1150.04 344.88,1151.71 344.96,1153.37C345.04,1155.04 345.12,1156.70 345.20,1158.37C345.27,1160.03 345.35,1161.70 345.43,1163.36C345.51,1165.03 345.59,1166.69 345.67,1168.36C345.75,1170.02 345.83,1171.69 345.91,1173.35C345.99,1175.02 346.07,1176.68 346.15,1178.35C346.23,1180.01 346.31,1181.68 346.39,1183.34C346.47,1185.01 346.55,1186.67 346.63,1188.34C346.71,1190.00 346.79,1191.67 346.87,1193.33C346.95,1195.00 347.03,1196.66 347.11,1198.33C347.19,1199.99 347.27,1201.66 347.36,1203.32C347.44,1204.99 347.52,1206.65 347.60,1208.32C347.68,1209.98 347.76,1211.65 347.84,1213.31C347.93,1214.98 348.01,1216.64 348.09,1218.31C348.17,1219.97 348.25,1221.64 348.34,1223.30C348.42,1224.97 348.50,1226.63 348.58,1228.30C348.67,1229.96 348.75,1231.63 348.83,1233.29C348.91,1234.96 349.00,1236.62 349.08,1238.29C349.16,1239.95 349.24,1241.62 349.33,1243.28C349.41,1244.95 349.49,1246.61 349.57,1248.28C349.66,1249.94 349.74,1251.61 349.82,1253.27C349.90,1254.94 349.99,1256.60 350.07,1258.27C350.15,1259.93 350.23,1261.60 350.32,1263.26C350.40,1264.93 350.48,1266.59 350.57,1268.26C350.65,1269.92 350.73,1271.59 350.81,1273.25C350.90,1274.92 350.98,1276.58 351.06,1278.25C351.14,1279.91 351.23,1281.58 351.31,1283.24C351.39,1284.91 351.47,1286.57 351.56,1288.24C351.64,1289.90 351.72,1291.57 351.80,1293.24C351.89,1294.90 351.97,1296.57 352.05,1298.23C352.14,1299.90 352.22,1301.56 352.31,1303.23C352.40,1304.89 352.50,1306.56 352.60,1308.22C352.70,1309.88 352.81,1311.55 352.92,1313.21C353.04,1314.87 353.16,1316.53 353.29,1318.19C353.43,1319.85 353.57,1321.51 353.72,1323.17C353.88,1324.83 353.95,1326.51 354.23,1328.15C354.51,1329.78 355.21,1332.19 355.40,1333.00C355.64,1332.03 356.50,1329.15 356.84,1327.19C357.17,1325.22 357.27,1323.22 357.40,1321.22C357.52,1319.22 357.53,1317.20 357.60,1315.19C357.66,1313.19 357.72,1311.18 357.78,1309.18C357.85,1307.17 357.92,1305.17 357.99,1303.17C358.06,1301.17 358.14,1299.17 358.21,1297.17C358.29,1295.17 358.36,1293.17 358.44,1291.17C358.52,1289.17 358.60,1287.17 358.67,1285.17C358.75,1283.17 358.83,1281.17 358.91,1279.17C358.99,1277.17 359.07,1275.17 359.15,1273.17C359.22,1271.17 359.30,1269.16 359.38,1267.16C359.46,1265.16 359.54,1263.16 359.62,1261.16C359.69,1259.16 359.77,1257.16 359.85,1255.16C359.93,1253.16 360.00,1251.16 360.08,1249.15C360.15,1247.15 360.23,1245.15 360.30,1243.15C360.38,1241.15 360.45,1239.15 360.52,1237.14C360.60,1235.14 360.67,1233.14 360.74,1231.14C360.81,1229.14 360.88,1227.14 360.95,1225.13C361.01,1223.13 361.08,1221.13 361.14,1219.13C361.21,1217.13 361.27,1215.13 361.33,1213.12C361.39,1211.12 361.45,1209.12 361.51,1207.12C361.57,1205.12 361.63,1203.12 361.69,1201.11C361.74,1199.11 361.80,1197.11 361.85,1195.11C361.91,1193.11 361.96,1191.11 362.01,1189.10C362.06,1187.10 362.11,1185.10 362.17,1183.10C362.22,1181.10 362.27,1179.10 362.32,1177.09C362.37,1175.09 362.42,1173.09 362.46,1171.09C362.51,1169.09 362.56,1167.09 362.61,1165.08C362.66,1163.08 362.71,1161.08 362.76,1159.08C362.80,1157.08 362.85,1155.07 362.90,1153.07C362.95,1151.07 363.00,1149.07 363.05,1147.07C363.10,1145.07 363.15,1143.07 363.20,1141.06C363.25,1139.06 363.30,1137.06 363.35,1135.06C363.40,1133.06 363.45,1131.06 363.51,1129.05C363.56,1127.05 363.61,1125.05 363.67,1123.05C363.72,1121.05 363.78,1119.05 363.83,1117.04C363.89,1115.04 363.95,1113.04 364.01,1111.04C364.07,1109.04 364.13,1107.04 364.19,1105.04C364.25,1103.03 364.32,1101.03 364.38,1099.03C364.44,1097.03 364.51,1095.03 364.57,1093.03C364.64,1091.03 364.70,1089.02 364.77,1087.02C364.84,1085.02 364.91,1083.02 364.98,1081.02C365.05,1079.02 365.12,1077.02 365.19,1075.01C365.26,1073.01 365.33,1071.01 365.40,1069.01C365.47,1067.01 365.55,1065.01 365.62,1063.01C365.69,1061.00 365.77,1059.00 365.84,1057.00C365.91,1055.00 365.99,1053.00 366.07,1051.00C366.14,1049.00 366.22,1047.00 366.29,1044.99C366.37,1042.99 366.45,1040.99 366.52,1038.99C366.60,1036.99 366.68,1034.99 366.75,1032.99C366.83,1030.98 366.91,1028.98 366.99,1026.98C367.07,1024.98 367.15,1022.98 367.22,1020.98C367.30,1018.98 367.38,1016.98 367.46,1014.97C367.54,1012.97 367.62,1010.97 367.70,1008.97C367.77,1006.97 367.85,1004.97 367.93,1002.97C368.01,1000.96 368.09,998.96 368.17,996.96C368.25,994.96 368.32,992.96 368.40,990.96C368.48,988.96 368.56,986.96 368.64,984.95C368.71,982.95 368.79,980.95 368.87,978.95C368.95,976.95 369.02,974.95 369.10,972.95C369.17,970.94 369.25,968.94 369.33,966.94C369.40,964.94 369.48,962.94 369.55,960.94C369.63,958.94 369.70,956.93 369.77,954.93C369.85,952.93 369.92,950.93 369.99,948.93C370.06,946.93 370.14,944.92 370.21,942.92C370.28,940.92 370.35,938.92 370.42,936.92C370.49,934.92 370.56,932.92 370.63,930.91C370.70,928.91 370.77,926.91 370.84,924.91C370.91,922.91 370.97,920.91 371.04,918.90C371.11,916.90 371.18,914.90 371.25,912.90C371.31,910.90 371.38,908.90 371.45,906.89C371.51,904.89 371.58,902.89 371.65,900.89C371.71,898.89 371.78,896.89 371.84,894.89C371.91,892.88 371.97,890.88 372.04,888.88C372.10,886.88 372.17,884.88 372.23,882.88C372.30,880.87 372.36,878.87 372.43,876.87C372.49,874.87 372.56,872.87 372.62,870.87C372.68,868.86 372.75,866.86 372.81,864.86C372.88,862.86 372.94,860.86 373.00,858.86C373.07,856.85 373.13,854.85 373.19,852.85C373.26,850.85 373.32,848.85 373.38,846.85C373.45,844.84 373.51,842.84 373.57,840.84C373.64,838.84 373.70,836.84 373.76,834.84C373.83,832.83 373.89,830.83 373.96,828.83C374.02,826.83 374.08,824.83 374.15,822.83C374.21,820.83 374.27,818.82 374.34,816.82C374.40,814.82 374.47,812.82 374.53,810.82C374.59,808.82 374.66,806.81 374.72,804.81C374.79,802.81 374.85,800.81 374.92,798.81C374.98,796.81 375.05,794.81 375.11,792.80C375.18,790.80 375.25,788.80 375.31,786.80C375.38,784.80 375.44,782.80 375.51,780.80C375.58,778.79 375.64,776.79 375.71,774.79C375.78,772.79 375.85,770.79 375.91,768.79C375.98,766.79 376.05,764.78 376.12,762.78C376.19,760.78 376.26,758.78 376.33,756.78C376.40,754.78 376.47,752.78 376.54,750.78C376.61,748.77 376.68,746.77 376.75,744.77C376.82,742.77 376.89,740.77 376.96,738.77C377.04,736.77 377.11,734.77 377.18,732.77C377.25,730.76 377.33,728.76 377.40,726.76C377.48,724.76 377.55,722.76 377.63,720.76C377.70,718.76 377.78,716.76 377.86,714.76C377.93,712.76 378.01,710.75 378.09,708.75C378.17,706.75 378.24,704.75 378.32,702.75C378.40,700.75 378.48,698.75 378.56,696.75C378.64,694.75 378.73,692.75 378.81,690.75C378.89,688.75 378.97,686.74 379.06,684.74C379.14,682.74 379.22,680.74 379.31,678.74C379.39,676.74 379.48,674.74 379.57,672.74C379.65,670.74 379.74,668.74 379.83,666.74C379.92,664.74 380.01,662.74 380.10,660.74C380.19,658.74 380.28,656.74 380.37,654.74C380.46,652.74 380.56,650.74 380.65,648.74C380.74,646.74 380.84,644.74 380.93,642.73C381.03,640.73 381.13,638.73 381.22,636.73C381.32,634.73 381.42,632.73 381.52,630.73C381.62,628.73 381.72,626.73 381.82,624.73C381.92,622.73 382.03,620.73 382.13,618.73C382.23,616.73 382.34,614.73 382.45,612.73C382.55,610.73 382.66,608.73 382.77,606.74C382.88,604.74 382.99,602.74 383.10,600.74C383.21,598.74 383.32,596.74 383.43,594.74C383.54,592.74 383.66,590.74 383.77,588.74C383.89,586.74 384.01,584.74 384.12,582.74C384.24,580.74 384.36,578.74 384.48,576.74C384.60,574.74 384.72,572.74 384.85,570.74C384.97,568.75 385.09,566.75 385.22,564.75C385.34,562.75 385.54,559.75 385.60,558.75C385.84,557.93 386.26,555.27 387.03,553.82C387.79,552.37 388.97,551.18 390.17,550.05C391.36,548.93 392.81,547.98 394.21,547.08C395.62,546.18 397.10,545.38 398.61,544.66C400.11,543.94 401.67,543.31 403.25,542.76C404.84,542.21 406.48,541.71 408.11,541.37C409.75,541.04 411.47,540.60 413.06,540.78C414.64,540.95 416.16,541.68 417.62,542.42C419.08,543.16 420.46,544.23 421.82,545.21C423.19,546.19 424.50,547.24 425.81,548.29C427.12,549.34 428.39,550.43 429.66,551.52C430.94,552.61 432.20,553.71 433.45,554.81C434.71,555.92 435.96,557.03 437.20,558.14C438.45,559.26 439.68,560.38 440.91,561.51C442.14,562.63 443.37,563.77 444.59,564.90C445.80,566.04 447.02,567.18 448.22,568.32C449.43,569.47 450.63,570.62 451.83,571.77C453.03,572.93 454.22,574.09 455.41,575.25C456.60,576.41 457.78,577.58 458.96,578.75C460.14,579.92 461.32,581.09 462.49,582.27C463.66,583.44 464.83,584.62 466.00,585.80C467.16,586.99 468.32,588.17 469.49,589.36C470.65,590.55 471.80,591.74 472.96,592.93C474.12,594.12 475.27,595.32 476.42,596.51C477.58,597.71 478.73,598.91 479.88,600.11C481.03,601.30 482.18,602.51 483.32,603.71C484.47,604.91 485.62,606.11 486.77,607.32C487.91,608.52 489.06,609.73 490.21,610.93C491.36,612.14 492.50,613.34 493.65,614.55C494.80,615.76 495.95,616.96 497.10,618.17C498.25,619.38 499.40,620.58 500.55,621.79C501.71,622.99 502.86,624.20 504.02,625.40C505.17,626.61 506.33,627.81 507.50,629.01C508.66,630.21 509.82,631.42 510.99,632.62C512.15,633.81 513.32,635.01 514.50,636.21C515.67,637.41 516.85,638.60 518.03,639.79C519.21,640.98 520.40,642.17 521.59,643.36C522.78,644.55 523.97,645.73 525.17,646.92C526.37,648.10 527.57,649.28 528.78,650.45C529.99,651.63 531.20,652.80 532.42,653.96C533.65,655.12 534.87,656.27 536.11,657.42C537.34,658.56 538.59,659.70 539.84,660.82C541.09,661.94 542.35,663.05 543.61,664.15C544.88,665.24 546.16,666.32 547.44,667.38C548.73,668.45 550.03,669.50 551.33,670.52C552.64,671.55 553.96,672.56 555.29,673.54C556.61,674.53 557.95,675.49 559.31,676.43C560.66,677.37 562.02,678.29 563.40,679.18C564.78,680.07 566.17,680.93 567.57,681.77C568.97,682.60 570.39,683.41 571.82,684.18C573.26,684.95 574.70,685.70 576.16,686.41C577.63,687.11 579.10,687.79 580.60,688.43C582.09,689.07 583.60,689.67 585.13,690.24C586.66,690.80 588.20,691.33 589.76,691.82C591.33,692.30 592.90,692.75 594.50,693.15C596.10,693.55 597.72,693.91 599.36,694.23C600.99,694.54 602.64,694.81 604.31,695.04C605.98,695.28 607.66,695.47 609.35,695.62C611.04,695.77 612.74,695.88 614.45,695.96C616.16,696.04 617.88,696.08 619.60,696.09C621.32,696.10 623.04,696.07 624.76,696.01C626.49,695.95 628.21,695.86 629.93,695.75C631.65,695.63 633.37,695.48 635.08,695.31C636.79,695.14 638.50,694.94 640.19,694.71C641.88,694.49 643.57,694.24 645.24,693.97C646.91,693.70 648.57,693.41 650.21,693.09C651.85,692.78 653.47,692.45 655.08,692.10C656.69,691.75 658.29,691.39 659.88,691.01C661.47,690.63 663.04,690.23 664.62,689.83C666.19,689.42 667.75,689.01 669.32,688.58C670.89,688.15 672.45,687.72 674.02,687.28C675.59,686.84 677.15,686.39 678.73,685.93C680.31,685.48 681.89,685.03 683.48,684.57C685.07,684.11 686.66,683.65 688.26,683.18C689.86,682.71 691.46,682.23 693.07,681.75C694.67,681.27 696.28,680.78 697.88,680.29C699.49,679.79 701.09,679.29 702.69,678.78C704.30,678.27 705.90,677.75 707.49,677.22C709.09,676.69 710.68,676.15 712.27,675.60C713.85,675.04 715.44,674.48 717.01,673.91C718.58,673.33 720.14,672.75 721.69,672.14C723.25,671.54 724.79,670.92 726.31,670.27C727.83,669.61 729.34,668.93 730.81,668.20C732.29,667.46 733.74,666.69 735.16,665.85C736.57,665.01 737.96,664.11 739.30,663.14C740.64,662.16 741.95,661.11 743.21,660.00C744.48,658.90 745.71,657.72 746.91,656.53C748.11,655.34 749.27,654.09 750.42,652.86C751.57,651.62 752.68,650.37 753.79,649.12C754.91,647.87 756.00,646.61 757.10,645.37C758.20,644.12 759.29,642.88 760.41,641.66C761.53,640.43 762.65,639.22 763.81,638.03C764.97,636.85 766.15,635.67 767.37,634.54C768.60,633.41 769.86,632.29 771.17,631.25C772.48,630.21 773.83,629.19 775.25,628.32C776.66,627.45 778.12,626.63 779.64,626.01C781.16,625.38 782.74,624.86 784.37,624.57C786.01,624.27 787.75,624.14 789.43,624.23C791.11,624.32 792.86,624.60 794.45,625.08C796.04,625.57 797.58,626.29 798.98,627.15C800.38,628.01 801.63,629.13 802.85,630.26C804.06,631.39 805.17,632.66 806.28,633.92C807.38,635.17 808.43,636.48 809.47,637.79C810.50,639.11 811.49,640.46 812.48,641.81C813.46,643.17 814.41,644.54 815.37,645.92C816.32,647.29 817.26,648.68 818.21,650.05C819.15,651.43 820.09,652.80 821.05,654.16C822.00,655.52 822.96,656.87 823.94,658.20C824.91,659.54 825.90,660.86 826.91,662.18C827.92,663.49 828.95,664.78 830.00,666.07C831.06,667.35 832.13,668.62 833.24,669.88C834.35,671.13 835.49,672.38 836.67,673.59C837.84,674.80 839.05,676.01 840.30,677.14C841.55,678.27 842.84,679.37 844.18,680.37C845.52,681.37 846.90,682.31 848.34,683.13C849.77,683.94 851.28,684.64 852.80,685.28C854.33,685.92 855.91,686.43 857.48,686.97C859.06,687.50 860.65,688.00 862.24,688.49C863.83,688.98 865.42,689.45 867.03,689.90C868.63,690.35 870.24,690.78 871.85,691.20C873.46,691.62 875.08,692.01 876.71,692.39C878.33,692.77 879.96,693.14 881.59,693.48C883.22,693.83 884.86,694.15 886.50,694.46C888.14,694.77 889.79,695.06 891.44,695.33C893.08,695.61 894.74,695.86 896.39,696.10C898.04,696.34 899.70,696.55 901.36,696.76C903.02,696.96 904.68,697.14 906.35,697.31C908.01,697.48 909.68,697.62 911.34,697.75C913.01,697.89 914.68,698.00 916.35,698.10C918.02,698.19 919.69,698.27 921.36,698.33C923.03,698.39 924.71,698.43 926.38,698.46C928.05,698.48 929.72,698.49 931.39,698.48C933.06,698.47 934.74,698.45 936.41,698.40C938.08,698.36 939.75,698.30 941.41,698.22C943.08,698.14 944.75,698.04 946.41,697.93C948.08,697.81 949.74,697.68 951.40,697.53C953.06,697.38 954.72,697.22 956.37,697.03C958.03,696.85 959.68,696.65 961.33,696.43C962.98,696.21 964.63,695.98 966.27,695.73C967.91,695.47 969.55,695.20 971.19,694.92C972.82,694.63 974.45,694.33 976.08,694.01C977.70,693.69 979.33,693.35 980.94,693.00C982.56,692.65 984.18,692.28 985.79,691.90C987.40,691.52 989.01,691.12 990.62,690.71C992.22,690.31 993.83,689.88 995.43,689.44C997.03,689.01 998.62,688.56 1000.22,688.10C1001.81,687.63 1003.40,687.16 1004.99,686.67C1006.58,686.19 1008.17,685.69 1009.76,685.18C1011.34,684.67 1012.92,684.15 1014.50,683.63C1016.09,683.10 1017.67,682.56 1019.24,682.01C1020.82,681.46 1022.40,680.91 1023.97,680.34C1025.54,679.77 1027.12,679.20 1028.68,678.61C1030.25,678.02 1031.82,677.43 1033.38,676.82C1034.94,676.21 1036.50,675.59 1038.05,674.96C1039.61,674.33 1041.15,673.69 1042.70,673.04C1044.24,672.38 1045.78,671.71 1047.31,671.03C1048.84,670.35 1050.36,669.66 1051.88,668.95C1053.40,668.25 1054.91,667.53 1056.41,666.79C1057.91,666.06 1059.41,665.31 1060.90,664.54C1062.38,663.78 1063.86,663.00 1065.33,662.20C1066.79,661.40 1068.25,660.59 1069.70,659.76C1071.15,658.93 1072.59,658.09 1074.01,657.23C1075.44,656.36 1076.86,655.48 1078.26,654.58C1079.66,653.69 1081.06,652.77 1082.44,651.84C1083.82,650.91 1085.19,649.96 1086.55,649.00C1087.90,648.04 1089.25,647.06 1090.59,646.06C1091.92,645.07 1093.25,644.06 1094.56,643.03C1095.87,642.01 1097.18,640.97 1098.47,639.91C1099.76,638.86 1101.04,637.79 1102.31,636.71C1103.58,635.63 1104.83,634.53 1106.08,633.42C1107.33,632.31 1108.56,631.19 1109.79,630.06C1111.01,628.93 1112.23,627.78 1113.43,626.62C1114.63,625.47 1115.82,624.30 1117.00,623.12C1118.18,621.93 1119.35,620.74 1120.51,619.54C1121.67,618.34 1122.82,617.13 1123.95,615.90C1125.09,614.68 1126.22,613.45 1127.33,612.21C1128.45,610.96 1129.55,609.71 1130.65,608.45C1131.74,607.19 1132.82,605.92 1133.89,604.65C1134.97,603.37 1136.03,602.08 1137.08,600.79C1138.13,599.50 1139.17,598.20 1140.20,596.89C1141.23,595.59 1142.25,594.27 1143.26,592.95C1144.27,591.63 1145.27,590.30 1146.26,588.96C1147.25,587.63 1148.23,586.29 1149.20,584.94C1150.17,583.59 1151.13,582.24 1152.09,580.88C1153.04,579.52 1153.99,578.15 1154.92,576.78C1155.86,575.41 1156.79,574.03 1157.71,572.65C1158.63,571.26 1159.54,569.87 1160.44,568.48C1161.35,567.09 1162.25,565.69 1163.14,564.28C1164.03,562.88 1164.91,561.47 1165.79,560.06C1166.66,558.64 1167.53,557.23 1168.40,555.80C1169.26,554.38 1170.12,552.95 1170.97,551.52C1171.82,550.09 1172.66,548.66 1173.50,547.22C1174.34,545.78 1175.18,544.34 1176.01,542.89C1176.83,541.45 1177.66,540.00 1178.48,538.55C1179.30,537.10 1180.11,535.64 1180.92,534.18C1181.73,532.72 1182.54,531.26 1183.34,529.80C1184.14,528.34 1184.94,526.87 1185.74,525.40C1186.53,523.93 1187.32,522.46 1188.11,520.99C1188.90,519.52 1189.68,518.04 1190.46,516.56C1191.25,515.09 1192.03,513.61 1192.80,512.13C1193.58,510.65 1194.36,509.17 1195.13,507.69C1195.90,506.20 1196.67,504.72 1197.44,503.24C1198.21,501.75 1198.98,500.27 1199.75,498.78C1200.52,497.30 1201.28,495.81 1202.05,494.32C1202.81,492.84 1203.58,491.35 1204.34,489.86C1205.11,488.38 1205.87,486.89 1206.64,485.40C1207.40,483.92 1208.16,482.43 1208.93,480.95C1209.69,479.46 1210.46,477.98 1211.23,476.49C1211.99,475.01 1212.76,473.52 1213.53,472.04C1214.30,470.56 1215.07,469.08 1215.84,467.60C1216.61,466.12 1217.38,464.64 1218.16,463.17C1218.93,461.69 1219.71,460.21 1220.49,458.74C1221.26,457.27 1222.04,455.79 1222.82,454.32C1223.60,452.85 1224.38,451.38 1225.16,449.90C1225.94,448.43 1226.73,446.96 1227.51,445.49C1228.29,444.02 1229.07,442.55 1229.86,441.09C1230.64,439.62 1231.42,438.15 1232.21,436.68C1232.99,435.21 1233.77,433.74 1234.56,432.28C1235.34,430.81 1236.12,429.34 1236.91,427.87C1237.69,426.41 1238.47,424.94 1239.26,423.47C1240.04,422.00 1240.82,420.53 1241.60,419.07C1242.38,417.60 1243.16,416.13 1243.94,414.66C1244.72,413.19 1245.50,411.72 1246.28,410.25C1247.06,408.78 1247.83,407.31 1248.61,405.84C1249.38,404.36 1250.16,402.89 1250.93,401.42C1251.70,399.94 1252.47,398.47 1253.24,396.99C1254.01,395.52 1254.78,394.04 1255.54,392.56C1256.31,391.08 1257.07,389.60 1257.84,388.13C1258.60,386.65 1259.37,385.17 1260.14,383.69C1260.91,382.22 1261.69,380.74 1262.47,379.27C1263.25,377.80 1264.04,376.34 1264.85,374.88C1265.65,373.41 1266.46,371.96 1267.29,370.51C1268.11,369.06 1268.95,367.62 1269.81,366.18C1270.66,364.75 1271.53,363.32 1272.43,361.91C1273.32,360.50 1274.23,359.09 1275.16,357.70C1276.10,356.30 1277.05,354.91 1278.04,353.55C1279.03,352.20 1280.02,350.82 1281.11,349.57C1282.20,348.31 1283.33,347.08 1284.58,346.01C1285.83,344.95 1287.17,343.97 1288.62,343.19C1290.07,342.41 1291.68,341.77 1293.28,341.35C1294.88,340.93 1296.59,340.70 1298.25,340.68C1299.91,340.66 1301.58,340.94 1303.23,341.22C1304.87,341.51 1306.50,341.99 1308.12,342.41C1309.74,342.82 1311.33,343.28 1312.93,343.73C1314.53,344.18 1316.13,344.64 1317.73,345.11C1319.33,345.58 1320.94,346.05 1322.53,346.56C1324.12,347.07 1325.71,347.60 1327.27,348.16C1328.84,348.72 1330.39,349.32 1331.93,349.94C1333.48,350.56 1335.00,351.21 1336.53,351.87C1338.05,352.54 1339.56,353.23 1341.06,353.94C1342.56,354.64 1344.06,355.37 1345.55,356.10C1347.04,356.84 1348.52,357.59 1350.01,358.35C1351.49,359.10 1352.97,359.87 1354.44,360.64C1355.92,361.41 1357.40,362.19 1358.87,362.96C1360.35,363.74 1361.83,364.52 1363.31,365.29C1364.79,366.06 1366.27,366.83 1367.76,367.59C1369.25,368.35 1370.74,369.10 1372.24,369.84C1373.74,370.57 1375.25,371.30 1376.77,372.01C1378.28,372.72 1379.81,373.42 1381.34,374.10C1382.87,374.78 1384.41,375.45 1385.95,376.11C1387.49,376.76 1389.04,377.40 1390.59,378.04C1392.14,378.67 1393.70,379.29 1395.26,379.90C1396.82,380.51 1398.39,381.12 1399.95,381.71C1401.52,382.30 1403.09,382.88 1404.66,383.46C1406.23,384.04 1407.80,384.60 1409.37,385.16C1410.94,385.73 1412.51,386.28 1414.08,386.83C1415.65,387.38 1417.22,387.92 1418.79,388.46C1420.36,389.00 1421.93,389.53 1423.50,390.06C1425.07,390.59 1426.64,391.11 1428.21,391.63C1429.77,392.15 1431.34,392.67 1432.91,393.18C1434.48,393.69 1436.05,394.20 1437.62,394.71C1439.19,395.22 1440.77,395.72 1442.34,396.22C1443.91,396.72 1445.48,397.22 1447.06,397.72C1448.63,398.22 1450.21,398.71 1451.79,399.21C1453.36,399.71 1454.94,400.20 1456.52,400.69C1458.10,401.19 1459.69,401.68 1461.27,402.17C1462.85,402.67 1464.44,403.16 1466.03,403.66C1467.62,404.15 1469.21,404.64 1470.80,405.14C1472.40,405.64 1473.99,406.14 1475.59,406.64C1477.19,407.13 1478.79,407.64 1480.39,408.14C1482.00,408.64 1483.61,409.15 1485.22,409.66C1486.83,410.16 1488.44,410.67 1490.06,411.17C1491.67,411.67 1493.29,412.17 1494.91,412.66C1496.53,413.15 1498.15,413.64 1499.78,414.12C1501.40,414.60 1503.03,415.07 1504.66,415.52C1506.29,415.98 1507.92,416.43 1509.55,416.86C1511.18,417.29 1512.82,417.71 1514.45,418.12C1516.09,418.52 1517.73,418.90 1519.36,419.27C1521.00,419.64 1522.64,419.98 1524.28,420.31C1525.92,420.63 1527.56,420.94 1529.21,421.22C1530.85,421.49 1532.49,421.75 1534.14,421.98C1535.78,422.20 1537.42,422.40 1539.07,422.57C1540.71,422.74 1542.36,422.88 1544.00,422.99C1545.65,423.10 1547.29,423.17 1548.94,423.23C1550.59,423.28 1552.23,423.30 1553.88,423.30C1555.52,423.30 1557.17,423.27 1558.81,423.21C1560.46,423.16 1562.10,423.08 1563.75,422.98C1565.39,422.87 1567.04,422.75 1568.68,422.60C1570.32,422.45 1571.97,422.28 1573.61,422.09C1575.25,421.90 1576.89,421.69 1578.54,421.46C1580.18,421.23 1581.82,420.98 1583.46,420.71C1585.10,420.45 1586.74,420.16 1588.37,419.86C1590.01,419.57 1591.65,419.25 1593.28,418.92C1594.92,418.59 1596.55,418.24 1598.19,417.89C1599.82,417.53 1601.45,417.16 1603.08,416.78C1604.71,416.40 1606.34,416.00 1607.97,415.60C1609.59,415.20 1611.22,414.78 1612.84,414.36C1614.47,413.94 1616.09,413.51 1617.71,413.07C1619.33,412.64 1620.95,412.19 1622.56,411.74C1624.18,411.29 1625.79,410.84 1627.41,410.38C1629.02,409.92 1630.63,409.45 1632.24,408.98C1633.85,408.51 1635.45,408.04 1637.06,407.56C1638.66,407.08 1640.27,406.60 1641.87,406.11C1643.47,405.62 1645.07,405.13 1646.67,404.64C1648.26,404.14 1649.86,403.64 1651.46,403.14C1653.05,402.64 1654.64,402.13 1656.23,401.63C1657.83,401.12 1659.42,400.61 1661.00,400.09C1662.59,399.58 1664.18,399.06 1665.77,398.54C1667.35,398.02 1668.94,397.50 1670.52,396.98C1672.10,396.46 1673.68,395.93 1675.26,395.40C1676.84,394.88 1678.42,394.35 1680.00,393.82C1681.58,393.29 1683.16,392.76 1684.73,392.23C1686.31,391.70 1687.88,391.16 1689.46,390.63C1691.03,390.10 1692.60,389.56 1694.17,389.03C1695.75,388.50 1697.32,387.96 1698.89,387.43C1700.46,386.90 1702.02,386.36 1703.59,385.83C1705.16,385.30 1706.73,384.76 1708.30,384.23C1709.87,383.70 1711.43,383.17 1713.00,382.64C1714.57,382.11 1716.14,381.58 1717.70,381.05C1719.27,380.52 1720.84,380.00 1722.41,379.47C1723.98,378.95 1725.55,378.43 1727.12,377.90C1728.69,377.38 1730.27,376.86 1731.84,376.35C1733.41,375.83 1734.99,375.32 1736.56,374.80C1738.14,374.29 1739.72,373.78 1741.30,373.27C1742.88,372.77 1744.46,372.26 1746.04,371.76C1747.63,371.26 1749.21,370.76 1750.80,370.27C1752.39,369.78 1753.98,369.28 1755.57,368.80C1757.16,368.31 1758.76,367.83 1760.36,367.35C1761.96,366.87 1763.56,366.39 1765.16,365.92C1766.77,365.45 1768.38,364.98 1769.99,364.52C1771.60,364.06 1773.22,363.60 1774.84,363.15C1776.46,362.70 1778.08,362.25 1779.71,361.81C1781.33,361.36 1782.97,360.93 1784.60,360.50C1786.24,360.06 1787.88,359.64 1789.52,359.22C1791.17,358.80 1792.82,358.38 1794.47,357.98C1796.12,357.58 1797.78,357.18 1799.44,356.81C1801.10,356.44 1802.76,356.08 1804.42,355.76C1806.08,355.43 1807.74,355.12 1809.40,354.86C1811.05,354.59 1812.71,354.35 1814.37,354.16C1816.02,353.96 1817.67,353.80 1819.32,353.69C1820.96,353.59 1822.60,353.52 1824.24,353.51C1825.87,353.51 1827.50,353.55 1829.12,353.66C1830.74,353.76 1832.35,353.93 1833.96,354.16C1835.56,354.40 1837.15,354.71 1838.73,355.07C1840.31,355.44 1841.89,355.88 1843.45,356.37C1845.01,356.86 1846.56,357.41 1848.09,358.02C1849.63,358.62 1851.16,359.27 1852.67,359.97C1854.19,360.67 1855.69,361.42 1857.18,362.20C1858.67,362.99 1860.15,363.81 1861.61,364.67C1863.08,365.53 1864.53,366.42 1865.97,367.34C1867.40,368.25 1868.83,369.20 1870.24,370.16C1871.65,371.13 1873.05,372.12 1874.43,373.11C1875.81,374.11 1877.18,375.13 1878.53,376.15C1879.88,377.17 1881.22,378.20 1882.54,379.23C1883.86,380.26 1885.17,381.30 1886.46,382.33C1887.75,383.36 1889.02,384.39 1890.28,385.40C1891.53,386.41 1893.38,387.90 1894.00,388.40" fill="none" stroke="#0000ff" stroke-width="5.6" stroke-linejoin="round" stroke-linecap="butt"/>
<line x1="185.6" y1="98.8" x2="334.05" y2="98.8" stroke="#0000ff" stroke-width="5.6"/>
<line x1="185.6" y1="194.9" x2="334.05" y2="194.9" stroke="#ff0000" stroke-width="5.6"/>
<line x1="791.0" y1="538.0" x2="791.0" y2="800.0" stroke="#000" stroke-width="5.7"/>
<line x1="1292.9" y1="258.75" x2="1292.9" y2="521.25" stroke="#000" stroke-width="5.7"/>
<line x1="1834.5" y1="270.5" x2="1834.5" y2="532.5" stroke="#000" stroke-width="5.7"/>
<line x1="1704.8" y1="890.0" x2="1704.8" y2="1152.0" stroke="#000" stroke-width="5.7"/>
<text><tspan x="347.17" y="120.00" font-size="57.40" textLength="97.56" lengthAdjust="spacingAndGlyphs">0.25</tspan><tspan x="444.75" y="120.00" font-size="57.40" textLength="62.78" lengthAdjust="spacingAndGlyphs">wt</tspan><tspan x="508.37" y="120.00" font-size="57.40" textLength="45.33" lengthAdjust="spacingAndGlyphs">%</tspan> <tspan x="567.11" y="120.00" font-size="57.60" textLength="66.67" lengthAdjust="spacingAndGlyphs">Pd</tspan><tspan x="633.94" y="120.00" font-size="57.60" textLength="19.22" lengthAdjust="spacingAndGlyphs">-</tspan><tspan x="652.79" y="120.00" font-size="57.80" textLength="94.96" lengthAdjust="spacingAndGlyphs">TiO</tspan><tspan x="745.98" y="140.00" font-size="35.70" textLength="19.06" lengthAdjust="spacingAndGlyphs">2</tspan></text>
<text><tspan x="347.54" y="216.00" font-size="57.80" textLength="95.49" lengthAdjust="spacingAndGlyphs">TiO</tspan><tspan x="439.96" y="236.00" font-size="35.70" textLength="19.25" lengthAdjust="spacingAndGlyphs">2</tspan></text>
<text><tspan x="281.21" y="515.00" font-size="65.60" textLength="63.59" lengthAdjust="spacingAndGlyphs">68</tspan><tspan x="343.51" y="515.00" font-size="65.60" textLength="72.25" lengthAdjust="spacingAndGlyphs">°C</tspan></text>
<text><tspan x="707.36" y="521.00" font-size="65.60" textLength="95.39" lengthAdjust="spacingAndGlyphs">225</tspan><tspan x="801.55" y="521.00" font-size="65.60" textLength="71.47" lengthAdjust="spacingAndGlyphs">°C</tspan></text>
<text><tspan x="1232.73" y="220.10" font-size="65.60" textLength="95.52" lengthAdjust="spacingAndGlyphs">415</tspan><tspan x="1327.50" y="220.10" font-size="65.60" textLength="70.47" lengthAdjust="spacingAndGlyphs">°C</tspan></text>
<text><tspan x="1756.98" y="251.00" font-size="65.60" textLength="95.49" lengthAdjust="spacingAndGlyphs">594</tspan><tspan x="1852.45" y="251.00" font-size="65.60" textLength="71.47" lengthAdjust="spacingAndGlyphs">°C</tspan></text>
<text><tspan x="1624.95" y="873.10" font-size="65.60" textLength="96.32" lengthAdjust="spacingAndGlyphs">555</tspan><tspan x="1720.45" y="873.10" font-size="65.60" textLength="71.47" lengthAdjust="spacingAndGlyphs">°C</tspan></text>
<text><tspan x="773.45" y="1756.70" font-size="81.00" textLength="439.67" lengthAdjust="spacingAndGlyphs">Temperature</tspan> <tspan x="1233.55" y="1756.70" font-size="81.00" textLength="132.13" lengthAdjust="spacingAndGlyphs">(°C)</tspan></text>
<text x="146.55" y="1606.6" font-size="66.40" textLength="30.90" lengthAdjust="spacingAndGlyphs">0</text>
<text x="395.05" y="1606.6" font-size="66.40" textLength="92.70" lengthAdjust="spacingAndGlyphs">100</text>
<text x="674.45" y="1606.6" font-size="66.40" textLength="92.70" lengthAdjust="spacingAndGlyphs">200</text>
<text x="953.85" y="1606.6" font-size="66.40" textLength="92.70" lengthAdjust="spacingAndGlyphs">300</text>
<text x="1233.25" y="1606.6" font-size="66.40" textLength="92.70" lengthAdjust="spacingAndGlyphs">400</text>
<text x="1512.65" y="1606.6" font-size="66.40" textLength="92.70" lengthAdjust="spacingAndGlyphs">500</text>
<text x="1792.05" y="1606.6" font-size="66.40" textLength="92.70" lengthAdjust="spacingAndGlyphs">600</text>
<text transform="translate(87.60,969.09) rotate(-90)" x="0" y="0" font-size="81.00" textLength="474.92" lengthAdjust="spacingAndGlyphs">Intensity (u.a)</text>
</svg></body></html>
